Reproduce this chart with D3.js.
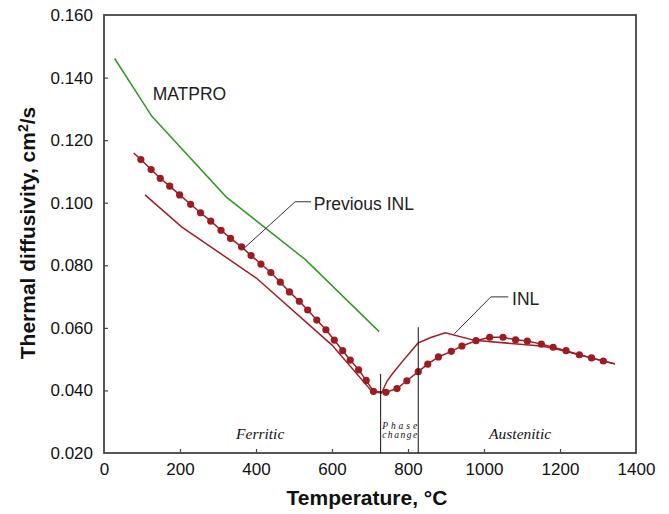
<!DOCTYPE html>
<html lang="en">
<head>
    <meta charset="UTF-8">
    <title>Thermal diffusivity vs temperature</title>
    <style>
        html, body { margin: 0; padding: 0; background: #fff; }
        svg { display: block; }
    </style>
</head>
<body>
    <div id="chart"></div>

    <script src="https://d3js.org/d3.v7.min.js"></script>
    <script>
        // x ticks and y ticks
        const xTicks = [0, 200, 400, 600, 800, 1000, 1200, 1400];
        const yTicks = [0.020, 0.040, 0.060, 0.080, 0.100, 0.120, 0.140, 0.160];

        // MATPRO (green)
        const matproT = [28, 126, 322, 530, 724];
        const matproV = [0.1461, 0.1276, 0.1018, 0.0818, 0.0588];

        // INL (thin red line)
        const inlT = [108, 205, 400, 600, 705, 730, 745, 760, 785, 826, 860, 898, 975, 1150, 1185, 1250, 1345];
        const inlV = [0.1025, 0.0922, 0.0760, 0.0545, 0.0397, 0.0391, 0.0430, 0.0455, 0.0492, 0.0551, 0.0569, 0.0584, 0.0560, 0.0542, 0.0534, 0.0514, 0.0484];

        // Previous INL (red line with dots), line runs a bit past the first/last dot
        const prevT = [97, 124, 148, 173, 199, 228, 254, 281, 308, 333, 362, 387, 413, 439, 464, 488, 514, 536, 560, 584, 606, 628, 648, 670, 690, 709, 742, 771, 797, 827, 852, 880, 914, 942, 979, 1015, 1050, 1083, 1114, 1151, 1182, 1216, 1251, 1283, 1314];
        const prevV = [0.1138, 0.1106, 0.1078, 0.1053, 0.1025, 0.0995, 0.0968, 0.0941, 0.0912, 0.0886, 0.0859, 0.0831, 0.0804, 0.0777, 0.0746, 0.0715, 0.0685, 0.0657, 0.0625, 0.0594, 0.0561, 0.0527, 0.0497, 0.0466, 0.0432, 0.0397, 0.0394, 0.0406, 0.0431, 0.0460, 0.0484, 0.0507, 0.0525, 0.0542, 0.0559, 0.0570, 0.0570, 0.0562, 0.0558, 0.0548, 0.0538, 0.0527, 0.0514, 0.0504, 0.0494];
        const prevLineStart = [78, 0.1159];
        const prevLineEnd = [1344, 0.0485];

        // phase boundaries [T, top of the line]
        const phaseT = [728, 827];
        const phaseTop = [0.0453, 0.0602];

        const width = 669, height = 514;
        const margin = {top: 15, right: 33, bottom: 61, left: 104};
        const w = width - margin.left - margin.right;
        const h = height - margin.top - margin.bottom;

        const svg = d3.select("#chart").append("svg")
            .attr("width", width)
            .attr("height", height);

        const g = svg.append("g")
            .attr("transform", `translate(${margin.left},${margin.top})`);

        const x = d3.scaleLinear().domain([0, 1400]).range([0, w]);
        const y = d3.scaleLinear().domain([0.02, 0.16]).range([h, 0]);

        const sans = "'Liberation Sans', Arial, sans-serif";
        const serif = "'Liberation Serif', 'Times New Roman', serif";

        // axes (ticks point inward)
        const xAxis = g.append("g")
            .attr("transform", `translate(0,${h})`)
            .call(d3.axisBottom(x).tickValues(xTicks).tickSize(-4).tickPadding(10).tickFormat(d3.format("d")));
        const yAxis = g.append("g")
            .call(d3.axisLeft(y).tickValues(yTicks).tickSize(-4).tickPadding(11).tickFormat(d3.format(".3f")));

        [xAxis, yAxis].forEach(a => {
            a.select(".domain").remove();
            a.selectAll(".tick line").attr("stroke", "#444").attr("stroke-width", 1.2);
            a.selectAll("text").attr("font-family", sans).attr("font-size", 17).attr("fill", "#111");
        });
        // first and last ticks sit on the frame
        xAxis.selectAll(".tick").filter(d => d === 0 || d === 1400).select("line").remove();
        yAxis.selectAll(".tick").filter(d => d === 0.02 || d === 0.16).select("line").remove();

        // frame
        g.append("rect")
            .attr("width", w).attr("height", h)
            .attr("fill", "none")
            .attr("stroke", "#444")
            .attr("stroke-width", 1.8);

        const line = d3.line().x(d => x(d[0])).y(d => y(d[1]));
        const red = "#a11d25";

        // MATPRO
        g.append("path")
            .datum(d3.zip(matproT, matproV))
            .attr("d", line)
            .attr("fill", "none")
            .attr("stroke", "#2f9a22")
            .attr("stroke-width", 1.5);

        // INL
        g.append("path")
            .datum(d3.zip(inlT, inlV))
            .attr("d", line)
            .attr("fill", "none")
            .attr("stroke", red)
            .attr("stroke-width", 1.5);

        // Previous INL
        const prevPts = d3.zip(prevT, prevV);
        g.append("path")
            .datum([prevLineStart, ...prevPts, prevLineEnd])
            .attr("d", line)
            .attr("fill", "none")
            .attr("stroke", red)
            .attr("stroke-width", 1.5);
        g.selectAll("circle.prev")
            .data(prevPts)
            .join("circle")
            .attr("class", "prev")
            .attr("cx", d => x(d[0]))
            .attr("cy", d => y(d[1]))
            .attr("r", 3.6)
            .attr("fill", "#9c1c22");

        // phase boundary lines
        g.selectAll("line.phase")
            .data(d3.zip(phaseT, phaseTop))
            .join("line")
            .attr("class", "phase")
            .attr("x1", d => x(d[0])).attr("x2", d => x(d[0]))
            .attr("y1", h).attr("y2", d => y(d[1]))
            .attr("stroke", "#111")
            .attr("stroke-width", 1);

        // region labels
        const region = (txt, t, v, size) => g.append("text")
            .attr("x", x(t)).attr("y", y(v))
            .attr("text-anchor", "middle")
            .attr("font-family", serif)
            .attr("font-style", "italic")
            .attr("font-size", size)
            .attr("fill", "#111")
            .text(txt);
        region("Ferritic", 411, 0.0246, 15.5);
        region("Austenitic", 1095, 0.0246, 15.5);
        region("Phase", 778, 0.0277, 9.5).attr("textLength", 35).attr("lengthAdjust", "spacing");
        region("change", 778, 0.0249, 9.5).attr("textLength", 35).attr("lengthAdjust", "spacing");

        // series labels with leader lines
        const label = (txt, t, v) => g.append("text")
            .attr("x", x(t)).attr("y", y(v))
            .attr("font-family", sans)
            .attr("font-size", 17.5)
            .attr("fill", "#222")
            .text(txt);
        label("MATPRO", 128, 0.1328);
        label("Previous INL", 552, 0.0977);
        label("INL", 1074, 0.0672);

        const leader = pts => g.append("path")
            .datum(pts)
            .attr("d", line)
            .attr("fill", "none")
            .attr("stroke", "#333")
            .attr("stroke-width", 1);
        leader([[545, 0.1003], [503, 0.1003], [370, 0.0856]]);
        leader([[1064, 0.0699], [1018, 0.0699], [922, 0.0581]]);

        // axis titles
        svg.append("text")
            .attr("x", 367)
            .attr("y", 505)
            .attr("text-anchor", "middle")
            .attr("font-family", sans)
            .attr("font-weight", "bold")
            .attr("font-size", 21)
            .attr("fill", "#111")
            .text("Temperature, °C");

        const yt = svg.append("text")
            .attr("transform", "translate(35,233) rotate(-90)")
            .attr("text-anchor", "middle")
            .attr("font-family", sans)
            .attr("font-weight", "bold")
            .attr("font-size", 21)
            .attr("fill", "#111");
        yt.append("tspan").text("Thermal diffusivity, cm");
        yt.append("tspan").attr("dy", -7).attr("font-size", 14).text("2");
        yt.append("tspan").attr("dy", 7).text("/s");
    </script>
</body>
</html>
